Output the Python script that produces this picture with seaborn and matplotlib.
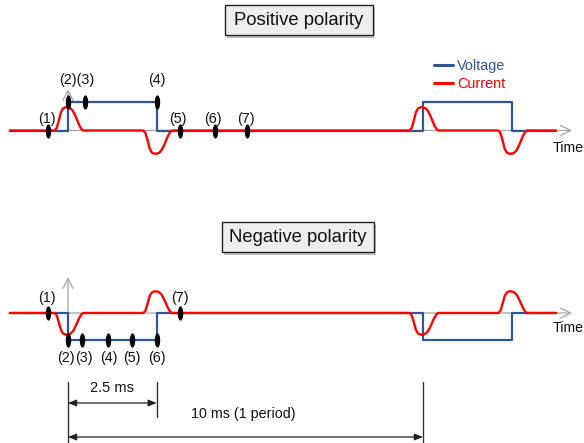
import numpy as np
import pandas as pd
import matplotlib
matplotlib.use("Agg")
import matplotlib.pyplot as plt
import seaborn as sns
from matplotlib.patches import Rectangle
from matplotlib.path import Path
from matplotlib.lines import Line2D

# ---------------- data (time in ms, amplitudes normalised) ----------------
voltage_edges_ms = [0.0, 2.5, 10.0, 12.5]
voltage_levels_pos = [0, 1, 0, 1, 0]
voltage_levels_neg = [0, -1, 0, -1, 0]

current_pulse_ms = [0.0, 2.5, 10.0, 12.5]
current_amp_pos = [0.8, -0.8, 0.8, -0.8]
current_amp_neg = [-0.8, 0.8, -0.8, 0.8]

# shape of one current pulse (offset ms, relative height)
pulse_shape_dt = [-0.38, -0.32, -0.26, -0.20, -0.14, -0.07, 0.0, 0.07, 0.14, 0.20, 0.26, 0.32, 0.38, 0.43]
pulse_shape_h = [0.0, 0.10, 0.42, 0.78, 0.95, 1.0, 1.0, 0.96, 0.84, 0.66, 0.44, 0.22, 0.06, 0.0]

trace_start_ms = -1.64
trace_end_ms = 13.75

points_pos_ms = [-0.56, 0.0, 0.48, 2.5, 3.15, 4.14, 5.04]
points_pos_level = [0, 1, 1, 1, 0, 0, 0]
points_neg_ms = [-0.56, 0.0, 0.40, 1.13, 1.80, 2.5, 3.15]
points_neg_level = [0, -1, -1, -1, -1, -1, 0]

labels_pos = ["(1)", "(2)(3)", "(4)", "(5)", "(6)", "(7)"]
labels_neg = ["(1)", "(2)", "(3)", "(4)", "(5)", "(6)", "(7)"]

half_period_ms = 2.5
period_ms = 10.0

# ---------------- layout ----------------
W, H = 584, 443
X0_PX = 68.0
PX_PER_MS = 35.5


def t_of(px):
    return (px - X0_PX) / PX_PER_MS


TOP_BASE, TOP_SCALE = 130.5, 29.0
BOT_BASE, BOT_SCALE = 313.0, 27.0

BLUE = "#2F5597"
RED = "#FF0000"
GREY = "#A6A6A6"

sns.set_theme(style="white")
plt.rcParams["font.family"] = ["Liberation Sans", "DejaVu Sans"]

fig = plt.figure(figsize=(W / 100, H / 100), dpi=100)
ax = fig.add_axes([0, 0, 1, 1])
ax.set_xlim(t_of(0), t_of(W))
ax.set_ylim(H, 0)
ax.axis("off")


def voltage_trace(levels):
    t = [trace_start_ms]
    v = [levels[0]]
    for e, lo, hi in zip(voltage_edges_ms, levels[:-1], levels[1:]):
        t += [e, e]
        v += [lo, hi]
    t.append(trace_end_ms)
    v.append(levels[-1])
    return t, v


def current_trace(amps):
    t = [trace_start_ms]
    c = [0.0]
    for p, a in zip(current_pulse_ms, amps):
        t += [p + d for d in pulse_shape_dt]
        c += [a * h for h in pulse_shape_h]
    t.append(trace_end_ms)
    c.append(0.0)
    return t, c


rows_v, rows_c = [], []
for panel, base, scale, vlev, camp in [
    ("pos", TOP_BASE, TOP_SCALE, voltage_levels_pos, current_amp_pos),
    ("neg", BOT_BASE, BOT_SCALE, voltage_levels_neg, current_amp_neg),
]:
    tv, vv = voltage_trace(vlev)
    for i, (a, b) in enumerate(zip(tv, vv)):
        rows_v.append({"panel": panel, "order": i, "t": a, "y": base - scale * b})
    tc, cc = current_trace(camp)
    for i, (a, b) in enumerate(zip(tc, cc)):
        rows_c.append({"panel": panel, "order": i, "t": a, "y": base - scale * b})
df_v = pd.DataFrame(rows_v)
df_c = pd.DataFrame(rows_c)

# axes (grey) with arrows
for base, top in [(TOP_BASE, 89), (BOT_BASE, 277)]:
    ax.annotate("", xy=(t_of(572), base), xytext=(t_of(10), base),
                arrowprops=dict(arrowstyle="->,head_length=0.6,head_width=0.3",
                                color=GREY, lw=0.9, shrinkA=0, shrinkB=0), zorder=1)
    ax.annotate("", xy=(0, top), xytext=(0, base),
                arrowprops=dict(arrowstyle="->,head_length=0.6,head_width=0.3",
                                color=GREY, lw=0.9, shrinkA=0, shrinkB=0), zorder=1)

sns.lineplot(data=df_v, x="t", y="y", units="panel", estimator=None, sort=False,
             color=BLUE, lw=1.6, ax=ax, legend=False, zorder=2)
sns.lineplot(data=df_c, x="t", y="y", units="panel", estimator=None, sort=False,
             color=RED, lw=1.7, ax=ax, legend=False, zorder=3)
ax.set_xlim(t_of(0), t_of(W))
ax.set_ylim(H, 0)

# ellipse markers
theta = np.linspace(0, 2 * np.pi, 40)
ell = Path(np.column_stack([0.19 * np.cos(theta), 0.5 * np.sin(theta)]))
pts = pd.DataFrame({
    "t": points_pos_ms + points_neg_ms,
    "y": [TOP_BASE - TOP_SCALE * l for l in points_pos_level]
         + [BOT_BASE - BOT_SCALE * l for l in points_neg_level],
})
sns.scatterplot(data=pts, x="t", y="y", marker=ell, s=105, color="black",
                linewidth=0, ax=ax, legend=False, zorder=5)

# point labels
lab_pos_x = [47, 77, 157, 178, 213, 246]
lab_pos_y = [119, 80, 80, 119, 119, 119]
for s, x, y in zip(labels_pos, lab_pos_x, lab_pos_y):
    ax.text(t_of(x), y, s, ha="center", va="center", fontsize=10.3, color="#111111")
lab_neg_x = [47, 65.5, 83.5, 109, 132, 157, 180]
lab_neg_y = [298, 358, 358, 358, 358, 358, 298]
for s, x, y in zip(labels_neg, lab_neg_x, lab_neg_y):
    ax.text(t_of(x), y, s, ha="center", va="center", fontsize=10.3, color="#111111")

# Time labels
ax.text(t_of(553), 148, "Time", ha="left", va="center", fontsize=10.2, color="#111111")
ax.text(t_of(553), 328, "Time", ha="left", va="center", fontsize=10.2, color="#111111")

# title boxes
for (x0, y0, x1, y1, txt) in [(225, 5, 373, 35, "Positive polarity"),
                              (222, 222, 374, 252, "Negative polarity")]:
    ax.add_patch(Rectangle((t_of(x0 + 2), y0 + 3), (x1 - x0) / PX_PER_MS, y1 - y0,
                           facecolor="#9a9a9a", edgecolor="none", alpha=0.6, zorder=6))
    ax.add_patch(Rectangle((t_of(x0), y0), (x1 - x0) / PX_PER_MS, y1 - y0,
                           facecolor="#EEEEEE", edgecolor="#222222", lw=1.0, zorder=7))
    ax.text(t_of((x0 + x1) / 2), (y0 + y1) / 2 + 0.5, txt, ha="center", va="center",
            fontsize=13.3, color="#111111", zorder=8)

# legend
handles = [Line2D([], [], color=BLUE, lw=2.2), Line2D([], [], color=RED, lw=2.2)]
leg = ax.legend(handles, ["Voltage", "Current"], loc="upper left",
                bbox_to_anchor=(434 / W, 1 - 59 / H), bbox_transform=fig.transFigure,
                frameon=False, fontsize=10.4, handlelength=1.3, handletextpad=0.3,
                borderpad=0, borderaxespad=0, labelspacing=0.25,
                labelcolor=[BLUE, RED])

# dimension lines
for x, y0, y1 in [(0.0, 382, 443), (half_period_ms, 382, 417), (period_ms, 382, 443)]:
    ax.plot([x, x], [y0, y1], color="#333333", lw=1.0)
for x1, y in [(half_period_ms, 403), (period_ms, 437)]:
    ax.annotate("", xy=(x1, y), xytext=(0.0, y),
                arrowprops=dict(arrowstyle="<|-|>,head_length=0.5,head_width=0.2",
                                color="#222222", lw=0.9, shrinkA=0, shrinkB=0,
                                mutation_scale=10))
ax.text(t_of(112), 388, "2.5 ms", ha="center", va="center", fontsize=10.5, color="#111111")
ax.text(t_of(243), 414, "10 ms (1 period)", ha="center", va="center", fontsize=10.3, color="#111111")

fig.savefig("out.png", dpi=100)
